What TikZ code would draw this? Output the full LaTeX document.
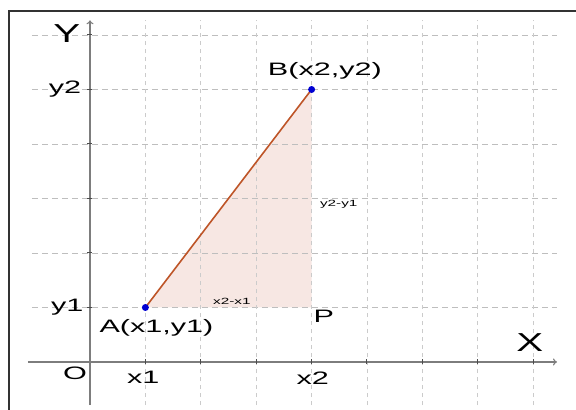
\documentclass[tikz,border=0pt]{standalone}
\usepackage{fontspec}
\setmainfont{Liberation Sans}
\usetikzlibrary{arrows.meta}
\definecolor{gridgray}{RGB}{190,190,190}
\definecolor{axisgray}{RGB}{125,125,125}
\definecolor{segbrown}{RGB}{190,85,40}
\definecolor{trifill}{RGB}{247,231,227}
\definecolor{dotblue}{RGB}{0,0,210}

\begin{document}
\begin{tikzpicture}[x=55.4pt, y=54.5pt,
  lbl/.style={inner sep=0pt, font=\fontsize{18}{20}\selectfont, xscale=1.7},
  biglbl/.style={inner sep=0pt, font=\fontsize{26}{28}\selectfont, xscale=1.55},
  difflbl/.style={inner sep=0pt, font=\fontsize{9}{10}\selectfont, xscale=1.7}]
  \useasboundingbox (-1.6245,-0.8807) rectangle (8.7726,6.642);
  \coordinate (A) at (1,1);
  \coordinate (B) at (4,5);
  \coordinate (P) at (4,1);
  \fill[trifill] (A) -- (B) -- (P) -- cycle;
  \foreach \y in {1,...,6}
    \draw[gridgray, line width=0.9pt, dash pattern=on 6pt off 4pt] (-1.05,\y) -- (8.43,\y);
  \foreach \x in {1,...,8}
    \draw[gridgray!80, line width=0.9pt, dash pattern=on 4pt off 4pt] (\x,-0.79) -- (\x,6.27);
  \draw[axisgray, line width=1.1pt, -{To[length=4pt, width=7pt]}] (-1.12,0) -- (8.43,0);
  \draw[axisgray, line width=1.1pt, -{To[length=4pt, width=7pt]}] (0,-0.79) -- (0,6.27);
  \foreach \x in {1,...,8}
    \draw[black!70, line width=1pt] ([yshift=-2.5pt]\x,0) -- ([yshift=2.5pt]\x,0);
  \foreach \y in {1,...,6}
    \draw[black!70, line width=1pt] ([xshift=-2.5pt]0,\y) -- ([xshift=2.5pt]0,\y);
  \draw[line width=1.6pt, black!80] (8.7726,6.44) -- (-1.462,6.44) -- (-1.462,-0.8807);

  \draw[segbrown, line width=1.6pt] (A) -- (B);
  \fill[dotblue] (A) circle[radius=3.5pt];
  \fill[dotblue] (B) circle[radius=3.5pt];

  \node[biglbl] (ylab) at (-0.42,6.02) {Y};
  \node[biglbl] (xlab) at (7.94,0.35) {X};
  \node[lbl] (y2lab) at (-0.45,5) {y2};
  \node[lbl] (y1lab) at (-0.41,1) {y1};
  \node[lbl] (olab) at (-0.27,-0.2) {O};
  \node[lbl] (x1lab) at (0.96,-0.28) {x1};
  \node[lbl] (x2lab) at (4.02,-0.29) {x2};
  \node[lbl] (alab) at (1.2,0.62) {A(x1,y1)};
  \node[lbl] (blab) at (4.24,5.34) {B(x2,y2)};
  \node[lbl] (plab) at (4.22,0.83) {P};
  \node[difflbl] (dxlab) at (2.56,1.12) {x2-x1};
  \node[difflbl] (dylab) at (4.49,2.9) {y2-y1};
\end{tikzpicture}
\end{document}
